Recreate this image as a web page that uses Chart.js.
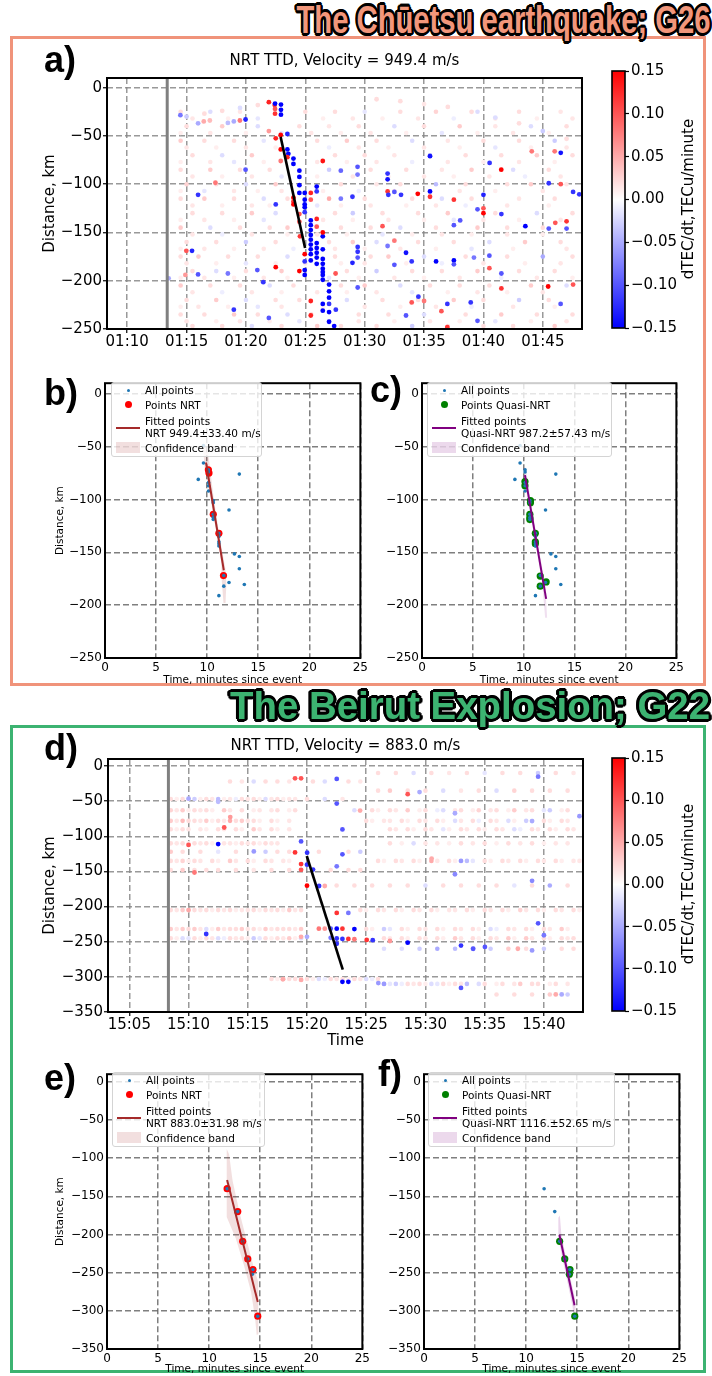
<!DOCTYPE html>
<html>
<head>
<meta charset="utf-8">
<script src="https://cdn.jsdelivr.net/npm/chart.js@4.4.0/dist/chart.umd.min.js"></script>
<style>
body{margin:0;width:712px;height:1376px;position:relative;background:#fff;overflow:hidden;font-family:"DejaVu Sans",sans-serif}
canvas{position:absolute}
.box{position:absolute;border:3px solid;box-sizing:border-box}
.head{position:absolute;right:2px;font:bold 38px "Liberation Sans",sans-serif;line-height:40px;white-space:nowrap;transform-origin:100% 50%;
 text-shadow:-3px 0 0 #000,3px 0 0 #000,0 -3px 0 #000,0 3px 0 #000,-2px -2px 0 #000,2px -2px 0 #000,-2px 2px 0 #000,2px 2px 0 #000,-3px -1px 0 #000,3px 1px 0 #000,-1px 3px 0 #000,1px -3px 0 #000}
.lab{position:absolute;font:bold 36px "Liberation Sans",sans-serif;line-height:36px}
.ttl{position:absolute;font:15px "DejaVu Sans";text-align:center;line-height:18px}
.cbl{position:absolute;font:15px "DejaVu Sans";white-space:nowrap;transform:translate(-50%,-50%) rotate(-90deg)}
.leg{position:absolute;background:rgba(255,255,255,0.8);border:1px solid #d4d4d4;border-radius:3px;box-sizing:border-box;font:10.5px "DejaVu Sans"}
.leg span{position:absolute;left:33px;line-height:12px;white-space:nowrap}
.leg i{position:absolute;display:block}
</style>
</head>
<body>
<div class="box" style="left:10px;top:36px;width:696px;height:650px;border-color:#F0937A"></div>
<div class="box" style="left:10px;top:725px;width:696px;height:648px;border-color:#3CB371"></div>

<canvas id="ca" width="548" height="282" style="left:38px;top:68px"></canvas>
<canvas id="cba" width="100" height="280" style="left:600px;top:60px"></canvas>
<canvas id="cb" width="319" height="315" style="left:52px;top:373px"></canvas>
<canvas id="cc" width="307" height="315" style="left:380px;top:373px"></canvas>
<canvas id="cd" width="549" height="305" style="left:38px;top:749px"></canvas>
<canvas id="cbd" width="100" height="276" style="left:600px;top:747px"></canvas>
<canvas id="ce" width="321" height="312" style="left:52px;top:1064px"></canvas>
<canvas id="cf" width="308" height="312" style="left:382px;top:1064px"></canvas>

<div class="head" data-w="414" style="top:0px;color:#F2967A">The Chūetsu earthquake; G26</div>
<div class="head" data-w="480" style="top:686px;color:#3CB371">The Beirut Explosion; G22</div>
<div class="lab" style="left:44px;top:42px">a)</div>
<div class="lab" style="left:44px;top:375px">b)</div>
<div class="lab" style="left:370px;top:372px">c)</div>
<div class="lab" style="left:44px;top:730px">d)</div>
<div class="lab" style="left:44px;top:1060px">e)</div>
<div class="lab" style="left:378px;top:1056px">f)</div>
<div class="ttl" style="left:107px;width:475px;top:51px">NRT TTD, Velocity = 949.4 m/s</div>
<div class="ttl" style="left:108px;width:475px;top:736px">NRT TTD, Velocity = 883.0 m/s</div>
<div class="cbl" style="left:688px;top:199px">dTEC/dt,TECu/minute</div>
<div class="cbl" style="left:688px;top:884px">dTEC/dt,TECu/minute</div>
<div id="legs"></div>

<script>
// ---------- a) Chūetsu, time in minutes after 01:00 UTC ----------
const aTickVals = [10, 15, 20, 25, 30, 35, 40, 45];
const aTickLabels = ['01:10', '01:15', '01:20', '01:25', '01:30', '01:35', '01:40', '01:45'];
const aEventTime = 13.37;
const aFitT = [22.92, 24.98];
const aFitD = [-51, -166];
// strong dTEC/dt points
const aHotT = [21.93, 22.42, 22.45, 22.95, 22.95, 22.95, 22.45, 22.45, 19.97, 19.49, 18.98, 18.48, 14.48, 16.45, 15.97, 16.96,
  22.51, 22.93, 23.49, 21.93, 22.93, 23.49, 23.57, 24.0, 24.0, 23.49, 22.93, 26.47,
  24.5, 24.5, 24.5, 24.5, 24.95, 24.95, 24.95, 24.95, 24.95, 24.0, 24.0, 24.0, 24.5, 24.5, 24.55, 24.95, 24.5, 22.51,
  25.46, 25.46, 25.46, 25.46, 25.46, 25.46, 25.46, 25.46, 25.46, 25.96, 25.96, 25.96, 25.96, 25.96, 25.96, 25.96, 25.96, 25.96, 25.46, 25.46,
  26.47, 26.47, 26.47, 26.47, 26.47, 26.47, 26.47, 26.47, 26.47, 27.0, 27.0, 27.0, 27.0, 26.47, 26.47, 27.0, 27.43, 27.0, 25.46, 25.46, 24.95, 24.95, 24.95,
  15.97, 17.43, 14.98, 15.46, 19.97, 22.51, 21.46, 18.98, 21.93, 15.97, 18.48, 20.96, 14.9, 13.49,
  29.4, 27.99, 29.4, 31.93, 31.93, 31.93, 32.5, 28.97, 27.99, 31.5, 32.5, 29.41, 29.41, 29.41, 28.97, 31.93, 32.5, 27.57, 29.41, 27.55,
  31.99, 34.47, 33.06, 35.5, 35.5, 35.5, 36.01, 37.51, 37.51, 37.51, 37.51, 38.04, 40.52, 41.5, 40.0, 40.0, 40.0, 39.5, 41.51, 43.53,
  45.5, 46.51, 46.0, 44.07, 46.51, 47.55, 48.07, 47.0, 46.05, 45.5, 47.0, 45.45, 47.55, 46.5, 41.51, 41.51, 40.5, 40.5, 38.93, 36.96,
  36.46, 36.96, 39.5, 33.48, 33.96, 34.52, 33.96, 33.48, 39.2, 35.0,
  31, 33, 35, 37, 39, 41, 43, 45, 47, 15, 16.5, 18, 19.5, 21];
const aHotD = [-15, -18, -16.5, -17.5, -23, -28, -27, -22, -33, -34, -35, -36.5, -28.5, -35, -37, -34,
  -52.5, -49, -48, -45, -64, -64, -68.5, -73.5, -79, -72, -76, -76,
  -86, -92.5, -101, -109, -109, -116, -121, -124, -129, -114, -118, -121, -131, -139, -154, -172.5, -190, -186,
  -137.5, -142.5, -147.5, -152.5, -157.5, -162.5, -167.5, -172.5, -179, -161, -166, -171, -176, -182.5, -102.5, -107.5, -136, -144, -109, -116,
  -154, -167.5, -177.5, -182.5, -187.5, -191, -194, -199, -150, -204, -211, -217.5, -224, -224, -231, -232.5, -247, -242.5, -221, -236, -189, -194, -180,
  -111, -98.5, -169, -169, -85, -121, -201.5, -230, -238.5, -193.5, -192.5, -189, -194, -197.5,
  -82, -86, -90, -89, -95, -107.5, -108, -113, -115, -143.5, -183.5, -165, -170, -176, -181.5, -164, -158.5, -230, -207, -192.5,
  -111, -110, -111, -71, -107.5, -113, -180, -179, -183, -116, -142.5, -137.5, -78, -85, -111, -130, -125, -126, -131, -143.5,
  -99, -67.5, -66, -66, -100, -108, -110.5, -138.5, -140, -146, -146, -206, -204, -224, -208, -192.5, -174, -187, -222.5, -224,
  -231.5, -248, -241.5, -171, -180, -216.5, -222.5, -236, -176, -221,
  -12, -14, -17, -20, -25, -31, -37, -45, -53, -30, -27, -24, -21, -18];
const aHotV = [0.13, 0.12, -0.15, -0.15, -0.15, -0.15, 0.12, 0.1, -0.13, 0.08, -0.05, -0.04, -0.08, 0.05, -0.05, 0.04,
  0.13, 0.15, -0.13, 0.06, 0.15, -0.15, -0.15, -0.15, -0.15, 0.13, 0.08, 0.14,
  -0.15, -0.15, -0.15, -0.15, -0.15, -0.15, -0.15, -0.15, -0.12, 0.15, 0.12, 0.15, 0.1, 0.1, 0.12, 0.15, 0.15, 0.15,
  -0.15, -0.15, -0.15, -0.15, -0.15, -0.15, -0.15, -0.15, -0.15, -0.15, -0.15, -0.15, -0.15, -0.15, -0.15, -0.12, 0.13, 0.1, 0.13, 0.1,
  -0.15, -0.15, -0.15, -0.15, -0.15, -0.15, -0.15, -0.15, 0.15, -0.15, -0.15, -0.15, -0.12, -0.15, -0.15, -0.15, -0.15, -0.15, 0.13, 0.13, -0.15, -0.15, -0.12,
  -0.12, 0.08, 0.1, -0.13, -0.1, -0.12, -0.12, -0.12, -0.1, -0.1, -0.08, -0.1, 0.06, -0.05,
  -0.1, -0.09, -0.08, -0.12, -0.14, 0.12, -0.1, -0.12, -0.08, 0.1, -0.1, -0.12, -0.12, -0.1, -0.13, -0.08, 0.08, -0.12, -0.1, 0.1,
  -0.12, 0.15, -0.12, -0.14, -0.15, 0.12, -0.15, -0.15, -0.1, 0.12, -0.1, -0.1, -0.12, 0.15, -0.13, 0.15, 0.1, -0.1, -0.12, -0.15,
  -0.12, -0.14, 0.08, 0.08, 0.1, -0.12, -0.12, 0.12, 0.1, -0.1, -0.1, 0.15, 0.1, -0.1, 0.12, -0.1, -0.1, 0.1, -0.12, -0.12,
  0.1, 0.12, -0.1, -0.14, -0.12, -0.12, 0.1, -0.1, -0.08, 0.08,
  0.02, 0.02, 0.015, 0.02, 0.02, -0.02, 0.02, -0.03, 0.02, -0.03, 0.02, 0.02, -0.02, 0.02];
// weak background points, one row per distance
const aRowD = [-25, -40, -55, -70, -85, -100, -115, -130, -145, -160, -175, -190, -205, -220, -235, -247,
  -32, -47, -62, -77, -92, -107, -122, -137, -152, -167, -182, -197, -212, -227, -242];
const aRowT = [
  [14.5, 17, 19.5, 25, 27.5, 30, 33, 36, 39.5, 43, 46.5],
  [15, 18, 21, 24.5, 27, 29.5, 32.5, 35, 38, 41, 44, 47],
  [14.5, 16.5, 19, 21.5, 26, 28.5, 31, 34, 37, 40, 43, 46],
  [15.5, 18, 20.5, 27.5, 30, 32.5, 35.5, 38.5, 41.5, 44.5, 47.5],
  [14.5, 17, 19.5, 22, 27, 30.5, 33.5, 36.5, 39, 42.5, 45.5],
  [15, 17.5, 20, 22.5, 28, 31, 33, 36, 38.5, 42, 44, 47],
  [14.5, 16.5, 19, 21.5, 23.5, 27, 30, 34, 36.5, 39, 43, 46],
  [15.5, 18, 20.5, 22.5, 27.5, 29, 31.5, 34.5, 37, 41, 44.5, 47.5],
  [14.5, 17, 19.5, 22, 23.5, 28, 30.5, 33, 36, 39.5, 42, 45],
  [15, 17.5, 20, 22.5, 27, 29, 31, 34.5, 37.5, 40.5, 43.5, 46.5],
  [14.5, 16, 18.5, 21, 23.5, 27.5, 30.5, 32, 35, 38.5, 42, 45, 47.5],
  [15.5, 17.5, 20, 23, 26.5, 28.5, 31, 34, 36.5, 39.5, 43, 46],
  [14.5, 17, 19.5, 22, 24, 28, 30, 33, 35.5, 38, 40.5, 44, 47],
  [15, 17.5, 20, 22.5, 24.5, 28.5, 31.5, 34.5, 37.5, 40, 43, 45.5],
  [14.5, 16.5, 19, 21, 23.5, 25.5, 29.5, 32, 35, 38.5, 41.5, 44.5, 47.5],
  [15.5, 18, 20.5, 23, 26, 28, 31, 34, 37, 40, 42.5, 46],
  [15.5, 18.5, 21, 26.5, 29, 31.5, 34.5, 37.5, 41, 44.5, 47.5],
  [14.5, 17, 20, 23, 25.5, 28, 30.5, 33.5, 36.5, 39.5, 42.5, 45.5],
  [15, 17.5, 20, 22.5, 27, 29.5, 32, 35, 38, 41, 44, 47],
  [14.5, 17, 19, 21.5, 26, 28.5, 31, 34, 37, 40, 43, 46],
  [15.5, 18, 20.5, 23, 26, 29, 32, 35, 37.5, 40.5, 43.5, 46.5],
  [14.5, 16.5, 19, 21, 23, 26.5, 29.5, 32.5, 35.5, 38, 41, 45],
  [15.5, 18, 20.5, 22, 26, 28, 30.5, 33.5, 36, 38.5, 42, 45.5],
  [14.5, 16.5, 19, 21.5, 26.5, 29, 32, 35, 37.5, 40, 43, 46.5],
  [15.5, 18, 20.5, 23.5, 26, 28.5, 31.5, 34, 36.5, 39, 42, 45],
  [14.5, 16.5, 19, 21.5, 24, 27.5, 30, 33, 36, 39, 42.5, 47],
  [15, 17.5, 20, 22.5, 25, 28, 30, 33.5, 36.5, 40, 43.5, 46.5],
  [14.5, 16.5, 19, 21.5, 23.5, 27, 29.5, 32.5, 35, 38, 41.5, 44.5, 47.5],
  [15.5, 18, 20.5, 23, 26, 28.5, 31, 34, 37, 39.5, 42, 45],
  [14.5, 16, 18.5, 21, 23, 26.5, 30, 33, 36, 39, 42.5, 46],
  [15, 17.5, 19.5, 22, 24.5, 27, 29.5, 32.5, 35.5, 38, 41, 44, 47]];
const aRowV = [
  [0.02, -0.02, 0.015, 0.02, 0.02, -0.015, 0.02, 0.025, -0.02, 0.02, 0.015],
  [0.02, 0.03, -0.02, 0.02, 0.015, 0.02, -0.02, 0.02, 0.03, 0.015, -0.02, 0.02],
  [0.03, 0.02, 0.02, -0.015, 0.02, 0.03, 0.02, -0.02, 0.015, 0.02, 0.02, -0.03],
  [0.02, -0.02, 0.03, 0.02, 0.02, 0.015, -0.05, 0.02, 0.02, 0.03, 0.02],
  [0.02, 0.03, 0.02, 0.02, -0.03, 0.02, 0.02, 0.015, 0.03, -0.02, 0.02],
  [0.025, 0.02, -0.02, 0.03, 0.02, 0.015, 0.02, -0.04, 0.02, 0.02, 0.03, 0.015],
  [0.02, 0.03, 0.02, -0.02, 0.02, 0.05, 0.02, 0.02, -0.02, 0.02, 0.015, 0.02],
  [0.02, 0.02, 0.03, -0.02, 0.02, -0.03, 0.02, 0.02, 0.03, 0.02, -0.02, 0.02],
  [0.03, -0.02, 0.02, 0.02, 0.03, 0.02, 0.02, -0.02, 0.02, 0.03, 0.02, 0.02],
  [0.02, 0.02, -0.03, 0.02, 0.02, 0.03, -0.02, 0.02, 0.02, -0.02, 0.03, 0.02],
  [0.02, 0.03, 0.02, 0.02, -0.02, 0.02, 0.02, 0.03, -0.02, 0.02, 0.02, -0.05, 0.02],
  [0.02, -0.02, 0.02, 0.03, 0.02, 0.02, -0.03, 0.02, 0.02, 0.03, 0.02, 0.02],
  [0.03, 0.02, 0.02, -0.02, 0.02, 0.02, 0.03, -0.02, 0.02, 0.02, 0.02, 0.03, -0.02],
  [0.02, 0.03, -0.02, 0.02, 0.02, -0.02, 0.02, 0.02, 0.03, 0.02, -0.03, 0.02],
  [0.02, 0.02, 0.03, 0.02, -0.02, 0.03, 0.02, 0.02, -0.02, 0.02, 0.03, 0.02, 0.02],
  [0.02, 0.02, -0.02, 0.02, 0.03, 0.02, 0.02, -0.03, 0.02, 0.02, 0.02, 0.03],
  [0.015, 0.01, -0.015, 0.01, 0.015, 0.01, 0.015, -0.01, 0.015, 0.01, 0.015],
  [0.01, 0.015, 0.01, -0.015, 0.015, 0.01, 0.015, 0.01, -0.015, 0.01, 0.015, 0.01],
  [0.015, 0.01, 0.015, 0.01, -0.01, 0.015, 0.01, 0.015, 0.01, -0.015, 0.01, 0.015],
  [0.01, 0.015, -0.015, 0.01, 0.015, 0.01, 0.015, -0.01, 0.015, 0.01, 0.015, 0.01],
  [0.015, 0.01, 0.015, -0.015, 0.01, 0.015, 0.01, 0.015, 0.01, 0.015, -0.01, 0.015],
  [0.01, -0.015, 0.015, 0.01, 0.015, 0.01, -0.01, 0.015, 0.01, 0.015, 0.01, 0.015],
  [0.015, 0.01, 0.015, 0.01, -0.015, 0.01, 0.015, 0.01, 0.015, -0.01, 0.015, 0.01],
  [0.01, 0.015, 0.01, -0.015, 0.015, 0.01, 0.015, 0.01, -0.015, 0.015, 0.01, 0.015],
  [0.015, -0.01, 0.015, 0.01, 0.015, 0.01, -0.015, 0.01, 0.015, 0.01, 0.015, 0.01],
  [0.01, 0.015, 0.01, 0.015, -0.01, 0.015, 0.01, 0.015, 0.01, -0.015, 0.01, 0.015],
  [0.015, 0.01, -0.015, 0.01, 0.015, 0.01, 0.015, 0.01, -0.01, 0.015, 0.01, 0.015],
  [0.01, 0.015, 0.01, 0.015, 0.01, -0.015, 0.01, 0.015, 0.01, 0.015, -0.01, 0.015, 0.01],
  [0.015, -0.01, 0.015, 0.01, 0.015, 0.01, 0.015, -0.015, 0.01, 0.015, 0.01, 0.015],
  [0.01, 0.015, 0.01, -0.015, 0.015, 0.01, 0.015, 0.01, 0.015, -0.01, 0.015, 0.01],
  [0.015, 0.01, 0.015, 0.01, -0.015, 0.01, 0.015, 0.01, 0.015, 0.01, -0.015, 0.01, 0.015]];

// ---------- b) / c) Chūetsu, minutes since event ----------
const bcAllT = [9.64, 9.64, 9.13, 10.13, 10.13, 10.14, 10.14, 10.14, 10.6, 10.6, 10.6, 10.6, 10.6, 11.15, 11.15, 11.15, 11.15, 11.15, 11.63, 11.63, 11.15, 13.15, 12.14, 12.67, 13.15, 13.15, 12.14, 13.64];
const bcAllD = [-49, -65.5, -81, -72, -74, -84, -87, -92, -101, -103, -114, -117, -119, -132, -135, -140, -142, -144, -172, -182, -191, -76, -110, -151.5, -154, -165.5, -178.5, -180.5];
const bNrtT = [10.12, 10.18, 10.6, 11.15, 11.6];
const bNrtD = [-72, -75, -114, -132, -172];
const bFitT = [9.89, 11.63];
const bFitD = [-65, -167];
const bBandT = [9.6, 10.05, 10.3, 10.66, 11.3, 11.78, 11.88, 11.8, 11.6, 11.42, 11.4, 10.98, 10.34, 9.75, 9.6];
const bBandD = [-50, -52, -72, -100, -140, -165, -180, -198, -198, -175, -160, -135, -100, -70, -50];
const cQnrtT = [10.12, 10.12, 10.66, 10.66, 10.6, 10.6, 10.6, 11.14, 11.14, 11.14, 11.62, 11.62, 12.2];
const cQnrtD = [-83, -87, -101, -103, -114, -117, -119, -132, -140, -142, -172.5, -182, -178];
const cFitT = [10.12, 12.2];
const cFitD = [-77, -194];
const cBandT = [9.95, 10.2, 10.58, 11.36, 12.1, 12.3, 12.1, 11.82, 11.13, 10.3, 9.95];
const cBandD = [-70, -70, -95, -140, -180, -212, -212, -180, -140, -95, -70];

// ---------- d) Beirut, time in minutes after 15:00 UTC ----------
const dTickVals = [5, 10, 15, 20, 25, 30, 35, 40];
const dTickLabels = ['15:05', '15:10', '15:15', '15:20', '15:25', '15:30', '15:35', '15:40'];
const dEventTime = 8.3;
const dFitT = [19.98, 23.02];
const dFitD = [-128, -289.6];
const dHotT = [19.5, 18.99, 22.51, 22.51, 22.99, 13.01, 13.52, 12.5, 10.0, 10.5, 19.5, 18.99, 20.01, 19.5, 19.5, 20.0, 20.51, 20.0, 21.02, 21.5,
  22.99, 22.51, 15.51, 10.0, 11.49, 22.51, 23.49, 21.0, 21.5, 22.0, 22.51, 22.99, 24.0, 22.51, 22.99, 23.49, 24.0, 25.04, 25.55, 27.0,
  22.0, 22.51, 22.99, 23.49, 19.5, 17.96, 19.5, 26.02, 20.0, 29.5, 24.48, 10.0, 12.5, 28.5, 39.51, 43.0, 32.49, 39.0, 33.0, 32.49,
  39.0, 30.52, 39.51, 40.0, 28.5, 33.0, 34.03, 35.02, 37.8, 39.0, 33.0, 26.5, 41.0, 41.5];
const dHotD = [-17.5, -17.5, -18.3, -53.4, -90.2, -87.5, -72.7, -111, -112.3, -151.5, -107.3, -123, -123.3, -139.5, -147.7, -140.4, -147.3, -170.3, -170.7, -170.7,
  -125.7, -142.7, -121.5, -204.9, -239, -209, -209, -231.5, -231.5, -231.5, -231.5, -231.5, -232, -245.4, -246, -246, -246.5, -247.4, -247.8, -249,
  -244.5, -252.9, -307, -307, -304.3, -303.5, -243, -308.8, -243, -37, -63.4, -46.5, -51, -40, -15.2, -71.4, -67.2, -78.3, -135, -154,
  -163.4, -131.7, -223.8, -240.8, -251.4, -255.5, -260, -257.4, -260, -262.4, -315.8, -310, -325, -325];
const dHotV = [0.1, 0.1, -0.1, -0.1, -0.1, 0.1, 0.06, -0.15, 0.1, 0.08, -0.1, 0.12, -0.12, 0.12, 0.1, -0.12, -0.12, 0.15, -0.12, 0.05,
  -0.1, -0.08, -0.06, 0.05, -0.12, 0.12, -0.08, 0.08, 0.06, -0.1, -0.15, 0.12, -0.15, -0.12, -0.12, 0.12, 0.08, 0.12, -0.12, 0.06,
  -0.08, -0.12, -0.15, -0.15, 0.05, 0.05, 0.05, -0.06, -0.05, -0.05, 0.05, -0.05, -0.04, 0.1, -0.08, -0.06, -0.05, -0.05, -0.06, -0.07,
  -0.07, 0.05, -0.1, -0.08, -0.15, -0.12, -0.1, -0.1, 0.05, -0.06, -0.1, -0.06, 0.05, -0.05];
const dRowD = [-10, -22, -35, -47, -63, -78, -90, -110, -122, -135, -148, -170, -205, -232, -245, -260, -303, -310, -325,
  -47, -63, -78, -90, -110, -135, -205, -232, -245, -303, -310];
const dRowT = [
  [26, 27.5, 29, 30.5, 32, 33.5, 35, 36.5, 38, 39.5, 41, 42.5],
  [13.5, 14.5, 15.5, 16.5, 17.5, 18.5, 20.5, 21.5, 23.5, 24.5],
  [26, 27, 28.5, 30, 31.5, 33, 34.5, 36, 37.5, 39, 40.5, 42],
  [8.5, 9.5, 10.5, 11.5, 12.5, 13.5, 14.5, 15.5, 16.5, 17.5, 18.5, 20, 21.5, 23],
  [8.5, 9.5, 10.5, 11.5, 13, 14.5, 16, 17.5, 19, 24, 25.5, 27, 28.5, 30, 31.5, 33, 34.5, 36, 37.5, 39, 40.5, 42],
  [8.5, 9.5, 10.5, 11.5, 12.5, 13.5, 14.5, 15.5, 17, 18.5, 25, 26.5, 28, 29.5, 31, 32.5, 34, 35.5, 37, 38.5, 40, 41.5],
  [8.5, 9.5, 11, 12.5, 14, 15.5, 17, 18.5, 27, 28.5, 30, 31.5, 33, 34.5, 36, 37.5, 39, 40.5, 42],
  [8.5, 9.5, 10.5, 11.5, 13.5, 14.5, 15.5, 16.5, 17.5, 27, 29, 31, 33, 35, 37, 39, 41],
  [8.5, 9.5, 11, 12.5, 14, 16.5, 17.5, 18.5, 21, 23.5, 24.5],
  [8.5, 9.5, 10.5, 12, 13.5, 15, 16.5, 18, 26, 27.5, 29, 30.5, 32, 33.5, 35, 36.5, 38, 39.5, 41, 42.5],
  [8.5, 9.5, 10.5, 11.5, 12.5, 14, 15.5, 17, 18.5, 22, 23.5, 24.5],
  [22.5, 24, 25.5, 27, 28.5, 30, 31.5, 33, 34.5, 36, 37.5, 39, 40.5, 42],
  [8.5, 9.5, 10.5, 11.5, 12.5, 13.5, 14.5, 15.5, 16.5, 17.5, 18.5, 19.5, 24.5, 26, 27.5, 29, 30.5, 32, 33.5, 35, 36.5, 38, 39.5, 41, 42.5],
  [8.5, 9.5, 10.5, 11.5, 12.5, 13.5, 14.5, 15.5, 16.5, 17.5, 18.5, 19.5, 25, 26.5, 28, 29.5, 31, 32.5, 34, 35.5, 37, 38.5, 40, 41.5],
  [8.5, 9.5, 10.5, 11.5, 12.5, 13.5, 14.5, 15.5, 16.5, 17.5, 18.5, 19.5, 26.5, 28, 29.5, 31, 32.5, 34, 35.5, 37, 38.5, 40, 41.5, 42.5],
  [26.5, 28, 29.5, 31, 32.5, 34, 35.5, 37, 38.5, 40, 41.5, 42.5],
  [17, 18, 19, 20, 21, 22, 23, 24, 25, 26],
  [26.5, 27.5, 28.5, 29.5, 30.5, 31.5, 32.5, 33.5, 35, 36.5, 38, 39.5, 41],
  [36, 37.5, 39, 40.5, 42],
  [9, 10, 11, 12, 13, 14, 15, 16, 17, 18, 19],
  [9, 10, 11, 12, 13.5, 15.5, 17, 18.5, 26, 27.5, 29.5, 31, 32.5, 34, 35.5, 37, 38.5, 40, 41.5],
  [9, 10, 11, 12, 13, 14, 15, 16, 17.5, 25.5, 27, 28.5, 30, 31.5, 33, 34.5, 36, 37.5, 39, 40.5, 42],
  [9, 10, 11.5, 13, 14.5, 16, 17.5, 27.5, 29, 30.5, 32, 33.5, 35, 36.5, 38, 39.5, 41, 42.5],
  [9, 10, 11, 12, 13, 14, 15, 16, 17, 28, 30, 32, 34, 36, 38, 40, 42],
  [9, 10, 11, 12.5, 14, 15.5, 17, 18.5, 26.5, 28, 29.5, 31, 32.5, 34, 35.5, 37, 38.5, 40, 41.5, 43],
  [9, 10, 11, 12, 13, 14, 15, 16, 17, 18, 19, 25, 26.5, 28, 29.5, 31, 32.5, 34, 35.5, 37, 38.5, 40, 41.5, 43],
  [9, 10, 11, 12, 13, 14, 15, 16, 17, 18, 19, 25.5, 27, 28.5, 30, 31.5, 33, 34.5, 36, 37.5, 39, 40.5, 42],
  [9, 10, 11, 12, 13, 14, 15, 16, 17, 18, 19, 27, 28.5, 30, 31.5, 33, 34.5, 36, 37.5, 39, 40.5, 42],
  [17.5, 18.5, 19.5, 20.5, 21.5, 22.5, 23.5, 24.5, 25.5],
  [27, 28, 29, 30, 31, 32, 33, 34.5, 36, 37.5, 39, 40.5, 42]];
const dRowV = [
  [0.02, 0.02, -0.02, 0.02, 0.015, 0.02, -0.015, 0.02, 0.02, -0.03, 0.02, 0.015],
  [0.02, 0.015, -0.02, 0.02, 0.02, 0.015, 0.02, -0.02, 0.02, 0.015],
  [0.02, 0.03, 0.02, 0.02, -0.02, 0.015, 0.02, -0.02, 0.025, 0.02, 0.02, 0.02],
  [0.02, 0.02, -0.03, 0.02, -0.04, 0.015, 0.02, 0.02, -0.02, 0.02, 0.015, 0.02, -0.02, 0.015],
  [0.025, 0.03, 0.02, 0.02, 0.03, 0.02, 0.015, 0.02, 0.02, -0.02, 0.02, 0.02, 0.03, 0.02, -0.02, 0.02, 0.025, 0.02, 0.03, 0.02, -0.03, 0.02],
  [0.03, 0.04, 0.02, 0.03, 0.02, 0.05, 0.03, 0.02, 0.02, 0.015, 0.02, 0.015, 0.02, 0.02, 0.02, -0.02, 0.02, 0.02, -0.02, -0.03, 0.02, 0.02],
  [0.02, 0.02, 0.015, 0.02, 0.02, 0.03, 0.02, 0.015, 0.02, 0.02, 0.02, -0.015, 0.02, 0.02, 0.02, -0.02, 0.02, 0.02, 0.02],
  [0.02, 0.02, 0.02, 0.02, 0.015, 0.02, 0.02, 0.02, 0.015, 0.02, -0.02, 0.015, 0.02, 0.02, 0.02, 0.02, 0.015],
  [0.03, 0.02, 0.02, -0.015, 0.02, -0.03, 0.02, 0.02, 0.02, 0.02, -0.03],
  [0.02, 0.025, 0.02, 0.02, 0.03, 0.02, 0.02, 0.015, 0.02, 0.02, 0.02, 0.05, 0.02, -0.04, 0.02, 0.02, 0.02, 0.02, 0.02, 0.015],
  [0.02, 0.03, 0.02, 0.02, 0.02, 0.02, 0.015, 0.02, 0.02, 0.02, 0.02, 0.02],
  [0.02, 0.02, 0.02, 0.02, 0.02, -0.02, 0.02, 0.02, 0.02, 0.02, -0.015, 0.02, -0.05, 0.02],
  [0.02, 0.03, 0.02, 0.02, 0.02, 0.02, 0.015, 0.02, 0.02, 0.02, 0.03, 0.02, 0.02, 0.02, 0.02, 0.02, 0.02, 0.015, 0.02, 0.02, 0.02, 0.025, 0.02, 0.02, 0.02],
  [0.03, 0.03, 0.03, -0.02, 0.03, 0.02, 0.03, 0.02, 0.03, 0.02, 0.02, 0.03, 0.02, -0.03, 0.02, 0.02, 0.02, 0.02, 0.02, -0.02, 0.02, 0.02, 0.02, 0.03],
  [0.02, -0.02, 0.02, 0.02, -0.02, 0.02, 0.02, -0.03, 0.02, 0.02, 0.03, -0.02, 0.02, 0.02, 0.02, 0.02, 0.03, 0.02, 0.02, 0.03, 0.03, 0.02, 0.02, 0.02],
  [-0.02, -0.02, -0.03, -0.05, -0.04, -0.05, -0.03, 0.03, 0.02, -0.03, 0.02, 0.02],
  [0.02, 0.04, 0.02, 0.02, -0.02, 0.02, 0.02, 0.02, -0.02, 0.02],
  [-0.02, -0.03, 0.02, 0.02, -0.02, 0.02, 0.02, -0.04, 0.02, 0.02, 0.03, 0.02, 0.02],
  [0.02, 0.02, 0.02, 0.03, -0.03],
  [0.01, 0.015, 0.01, 0.015, 0.01, -0.01, 0.015, 0.01, 0.015, 0.01, 0.015],
  [0.015, 0.01, 0.015, 0.01, 0.015, 0.01, 0.015, 0.01, 0.01, 0.015, 0.01, -0.01, 0.015, 0.01, 0.015, 0.01, 0.015, -0.015, 0.01],
  [0.015, 0.02, 0.015, 0.01, 0.015, 0.02, 0.015, 0.01, 0.01, 0.01, 0.015, 0.01, 0.015, 0.01, 0.015, -0.01, 0.015, 0.01, -0.015, 0.01, 0.015],
  [0.01, 0.015, 0.01, 0.015, 0.01, 0.015, 0.01, 0.015, 0.01, 0.015, 0.01, 0.015, 0.01, 0.015, -0.01, 0.015, 0.01, 0.015],
  [0.015, 0.01, 0.015, 0.01, 0.015, 0.01, 0.015, 0.01, 0.015, 0.01, 0.015, 0.01, 0.015, 0.01, 0.015, 0.01, 0.015],
  [0.015, 0.01, 0.015, 0.01, 0.015, 0.01, 0.015, 0.01, 0.01, 0.015, 0.01, 0.015, 0.01, -0.015, 0.01, 0.015, 0.01, 0.015, 0.01, 0.015],
  [0.015, 0.01, 0.015, 0.01, 0.015, 0.01, 0.015, 0.01, 0.015, 0.01, 0.015, 0.01, 0.015, 0.01, 0.015, 0.01, 0.015, 0.01, 0.015, 0.01, 0.015, 0.01, 0.015, 0.01],
  [0.015, 0.02, 0.015, 0.01, 0.015, 0.02, 0.015, 0.01, 0.015, 0.02, 0.015, 0.01, -0.015, 0.01, 0.015, 0.01, 0.015, 0.01, -0.01, 0.015, 0.01, 0.015, 0.01],
  [0.01, -0.015, 0.01, 0.015, -0.01, 0.015, 0.01, -0.015, 0.01, 0.015, 0.01, 0.015, 0.01, 0.015, 0.01, 0.015, 0.01, 0.015, 0.01, 0.015, 0.01, 0.015],
  [0.01, 0.02, 0.015, 0.01, -0.01, 0.015, 0.01, 0.015, -0.01],
  [-0.015, -0.01, 0.015, 0.01, -0.015, 0.01, 0.015, -0.02, 0.01, 0.015, 0.02, 0.01, 0.015]];

// ---------- e) / f) Beirut, minutes since event ----------
const efAllT = [11.76, 12.8, 13.28, 13.78, 14.29, 14.23, 14.76];
const efAllD = [-140, -170, -209, -232, -246, -252, -307];
const eNrtT = [11.76, 12.8, 13.28, 13.78, 14.29, 14.76];
const eNrtD = [-140, -170, -209, -232, -246, -307];
const eFitT = [11.76, 14.76];
const eFitD = [-128.5, -288.3];
const eBandT = [11.72, 11.95, 12.3, 12.95, 13.7, 14.4, 14.8, 14.82, 14.66, 14.5, 14.1, 13.4, 12.6, 11.72, 11.72];
const eBandD = [-88, -95, -130, -170, -209, -245, -262, -330, -332, -310, -275, -240, -205, -177, -88];
const fQnrtT = [13.28, 13.78, 14.29, 14.23, 14.76];
const fQnrtD = [-209, -232, -246, -252, -307];
const fFitT = [13.26, 14.74];
const fFitD = [-200.6, -292.6];
const fBandT = [13.15, 13.3, 13.45, 14.05, 14.8, 14.85, 14.65, 14.55, 13.85, 13.15, 13.15];
const fBandD = [-178, -175, -200, -240, -285, -305, -308, -295, -250, -205, -178];

// ---------- colour bar ----------
const cbMin = -0.15, cbMax = 0.15;
const cbTickVals = [-0.15, -0.1, -0.05, 0, 0.05, 0.1, 0.15];
const cbTickLabels = ['\u22120.15', '\u22120.10', '\u22120.05', '0.00', '0.05', '0.10', '0.15'];

Chart.defaults.font.family = '"DejaVu Sans", sans-serif';
Chart.defaults.color = '#000';
Chart.defaults.animation = false;

// black box around every plotting area
Chart.register({
  id: 'frame',
  afterDatasetsDraw(chart, args, opts) {
    const {ctx, chartArea: a} = chart;
    ctx.save();
    ctx.strokeStyle = '#000';
    ctx.lineWidth = opts.width || 2;
    ctx.strokeRect(a.left, a.top, a.right - a.left, a.bottom - a.top);
    ctx.restore();
  }
});

function bwr(v) {
  const t = Math.max(-1, Math.min(1, v / cbMax));
  if (t >= 0) { const c = Math.round(255 * (1 - t)); return 'rgb(255,' + c + ',' + c + ')'; }
  const c = Math.round(255 * (1 + t));
  return 'rgb(' + c + ',' + c + ',255)';
}
const pts = (xs, ys) => xs.map((x, i) => ({x: x, y: ys[i]}));
const minus = v => v < 0 ? '\u2212' + (-v) : '' + v;

function rows(rd, rt, rv) {
  const p = [], c = [];
  rd.forEach((d, r) => rt[r].forEach((t, i) => { p.push({x: t, y: d}); c.push(bwr(rv[r][i])); }));
  return {p, c};
}

function scale(o) {
  return {
    type: 'linear', min: o.min, max: o.max, position: o.pos,
    afterBuildTicks: s => { s.ticks = o.ticks.map(v => ({value: v})); },
    afterFit: o.pos === 'left' ? (s => { s.width = o.size; }) : (s => { s.height = o.size; }),
    ticks: {autoSkip: false, maxRotation: 0, padding: o.tpad, font: {size: o.fs}, callback: o.cb},
    grid: {color: o.gc, lineWidth: 1.5, drawTicks: o.dt, tickLength: 4, tickColor: '#000', tickWidth: 1.2},
    border: {display: false, dash: [6, 3]},
    title: o.title ? {display: true, text: o.title, font: {size: o.tfs}, padding: o.tp} : {display: false}
  };
}

function bigChart(id, o) {
  const faint = rows(o.rd, o.rt, o.rv);
  new Chart(document.getElementById(id), {
    type: 'scatter',
    data: {datasets: [
      {data: faint.p, pointBackgroundColor: faint.c, pointRadius: 2.3, pointBorderWidth: 0, order: 4},
      {data: pts(o.ht, o.hd), pointBackgroundColor: o.hv.map(bwr), pointRadius: 2.4, pointBorderWidth: 0, order: 3},
      {type: 'line', data: pts([o.ev, o.ev], [o.ymin, o.ymax]), borderColor: '#808080', borderWidth: 3, pointRadius: 0, order: 2},
      {type: 'line', data: pts(o.ft, o.fd), borderColor: '#000', borderWidth: 2.6, pointRadius: 0, order: 1}
    ]},
    options: {
      responsive: false, events: [],
      layout: {padding: {top: 2, right: 4, left: 0, bottom: 0}},
      plugins: {legend: {display: false}, tooltip: {enabled: false}, frame: {width: 2}},
      scales: {
        x: scale({min: o.xmin, max: o.xmax, pos: 'bottom', ticks: o.xt, size: o.xh, tpad: 0, fs: 15, dt: true,
          cb: (v, i) => o.xl[i], gc: 'rgba(135,135,135,0.85)', title: o.xtitle, tfs: 15, tp: {top: 0, bottom: 4}}),
        y: scale({min: o.ymin, max: o.ymax, pos: 'left', ticks: o.yt, size: o.yw, tpad: 1, fs: 15, dt: true,
          cb: minus, gc: 'rgba(135,135,135,0.85)', title: 'Distance, km', tfs: 15, tp: {top: 3, bottom: 0}})
      }
    }
  });
}

function smallChart(id, o) {
  new Chart(document.getElementById(id), {
    type: 'scatter',
    data: {datasets: [
      {type: 'line', data: pts(o.bt, o.bd), fill: 'shape', backgroundColor: o.bc, borderColor: 'rgba(0,0,0,0)', borderWidth: 0, pointRadius: 0, order: 4},
      {data: pts(o.st, o.sd), backgroundColor: o.sc, pointRadius: 3.6, borderWidth: 0, order: 3},
      {data: pts(o.at, o.ad), backgroundColor: '#1f77b4', pointRadius: 1.8, borderWidth: 0, order: 2},
      {type: 'line', data: pts(o.ft, o.fd), borderColor: o.fc, borderWidth: 2, pointRadius: 0, order: 1}
    ]},
    options: {
      responsive: false, events: [],
      layout: {padding: {top: 2, right: 3, left: 0, bottom: 0}},
      plugins: {legend: {display: false}, tooltip: {enabled: false}, frame: {width: 2}},
      scales: {
        x: scale({min: 0, max: 25, pos: 'bottom', ticks: [0, 5, 10, 15, 20, 25], size: o.xh, tpad: 3, fs: 12, dt: false,
          cb: v => '' + v, gc: 'rgba(105,105,105,0.85)', title: 'Time, minutes since event', tfs: 10.5, tp: {top: 0, bottom: o.xtp}}),
        y: scale({min: o.ymin, max: 10, pos: 'left', ticks: o.yt, size: o.yw, tpad: 3, fs: 12, dt: false,
          cb: minus, gc: 'rgba(105,105,105,0.85)', title: o.ytitle ? 'Distance, km' : null, tfs: 10.5, tp: {top: 2, bottom: 0}})
      }
    }
  });
}

function colorbar(id, top, bottom) {
  new Chart(document.getElementById(id), {
    type: 'bar',
    data: {labels: [''], datasets: [{
      data: [[cbMin, cbMax]], barPercentage: 1, categoryPercentage: 1, borderWidth: 0,
      backgroundColor: c => {
        const a = c.chart.chartArea;
        if (!a) return '#fff';
        const g = c.chart.ctx.createLinearGradient(0, a.bottom, 0, a.top);
        g.addColorStop(0, '#0000ff'); g.addColorStop(0.5, '#ffffff'); g.addColorStop(1, '#ff0000');
        return g;
      }
    }]},
    options: {
      responsive: false, events: [],
      layout: {padding: {left: 12, top: top, bottom: bottom, right: 0}},
      plugins: {legend: {display: false}, tooltip: {enabled: false}, frame: {width: 1.6}},
      scales: {
        x: {display: false},
        y: {position: 'right', min: cbMin, max: cbMax,
          afterBuildTicks: s => { s.ticks = cbTickVals.map(v => ({value: v})); },
          afterFit: s => { s.width = 75; },
          ticks: {font: {size: 15}, padding: 2, callback: (v, i) => cbTickLabels[i]},
          grid: {drawOnChartArea: false, drawTicks: true, tickLength: 4, tickColor: '#000', tickWidth: 1.2},
          border: {display: false}}
      }
    }
  });
}

const aY = [-250, -200, -150, -100, -50, 0];
const dY = [-350, -300, -250, -200, -150, -100, -50, 0];

bigChart('ca', {rd: aRowD, rt: aRowT, rv: aRowV, ht: aHotT, hd: aHotD, hv: aHotV, ev: aEventTime, ft: aFitT, fd: aFitD,
  xmin: 8.3, xmax: 48.3, xt: aTickVals, xl: aTickLabels, xh: 21, xtitle: null, ymin: -250, ymax: 10, yt: aY, yw: 69});
bigChart('cd', {rd: dRowD, rt: dRowT, rv: dRowV, ht: dHotT, hd: dHotD, hv: dHotV, ev: dEventTime, ft: dFitT, fd: dFitD,
  xmin: 3.2, xmax: 43.3, xt: dTickVals, xl: dTickLabels, xh: 42, xtitle: 'Time', ymin: -350, ymax: 10, yt: dY, yw: 70});
colorbar('cba', 10, 12);
colorbar('cbd', 10, 12);

smallChart('cb', {bt: bBandT, bd: bBandD, bc: 'rgba(165,42,42,0.15)', st: bNrtT, sd: bNrtD, sc: '#ff0000', at: bcAllT, ad: bcAllD,
  ft: bFitT, fd: bFitD, fc: '#a52a2a', ymin: -250, yt: aY, yw: 53, xh: 30, xtp: 1, ytitle: true});
smallChart('cc', {bt: cBandT, bd: cBandD, bc: 'rgba(128,0,128,0.12)', st: cQnrtT, sd: cQnrtD, sc: '#008000', at: bcAllT, ad: bcAllD,
  ft: cFitT, fd: cFitD, fc: '#800080', ymin: -250, yt: aY, yw: 42, xh: 30, xtp: 1, ytitle: false});
smallChart('ce', {bt: eBandT, bd: eBandD, bc: 'rgba(165,42,42,0.15)', st: eNrtT, sd: eNrtD, sc: '#ff0000', at: efAllT, ad: efAllD,
  ft: eFitT, fd: eFitD, fc: '#a52a2a', ymin: -350, yt: dY, yw: 55, xh: 27, xtp: 0, ytitle: true});
smallChart('cf', {bt: fBandT, bd: fBandD, bc: 'rgba(128,0,128,0.16)', st: fQnrtT, sd: fQnrtD, sc: '#008000', at: efAllT, ad: efAllD,
  ft: fFitT, fd: fFitD, fc: '#800080', ymin: -350, yt: dY, yw: 42, xh: 27, xtp: 0, ytitle: false});

// legends
function legend(x, y, w, selName, selColor, fitText, fitColor, bandColor) {
  return '<div class="leg" style="left:' + x + 'px;top:' + y + 'px;width:' + w + 'px;height:75px">' +
    '<i style="left:14.5px;top:5.5px;width:3px;height:3px;border-radius:50%;background:#1f77b4"></i>' +
    '<i style="left:12.5px;top:18px;width:7px;height:7px;border-radius:50%;background:' + selColor + '"></i>' +
    '<i style="left:4px;top:43.5px;width:24px;height:2.5px;background:' + fitColor + '"></i>' +
    '<i style="left:4px;top:59px;width:24px;height:11px;background:' + bandColor + '"></i>' +
    '<span style="top:1px">All points</span><span style="top:16px">' + selName + '</span>' +
    '<span style="top:32px">Fitted points</span><span style="top:44px">' + fitText + '</span>' +
    '<span style="top:59px">Confidence band</span></div>';
}
document.getElementById('legs').innerHTML =
  legend(111, 382, 151, 'Points NRT', '#ff0000', 'NRT 949.4\u00b133.40 m/s', '#a52a2a', 'rgba(165,42,42,0.15)') +
  legend(427, 382, 185, 'Points Quasi-NRT', '#008000', 'Quasi-NRT 987.2\u00b157.43 m/s', '#800080', 'rgba(128,0,128,0.15)') +
  legend(112, 1072, 153, 'Points NRT', '#ff0000', 'NRT 883.0\u00b131.98 m/s', '#a52a2a', 'rgba(165,42,42,0.15)') +
  legend(428, 1072, 187, 'Points Quasi-NRT', '#008000', 'Quasi-NRT 1116.\u00b152.65 m/s', '#800080', 'rgba(128,0,128,0.15)');

// fit the big headings to their measured widths
document.querySelectorAll('.head').forEach(h => {
  const w = h.getBoundingClientRect().width;
  h.style.transform = 'scaleX(' + (h.dataset.w / w) + ')';
});
</script>
</body>
</html>
